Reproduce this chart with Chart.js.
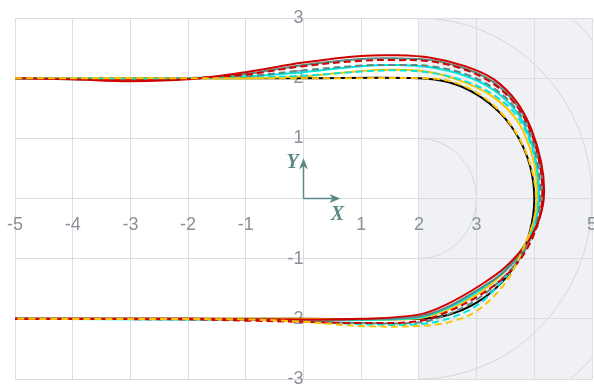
<!DOCTYPE html>
<html>
<head>
<meta charset="utf-8">
<script src="https://cdn.jsdelivr.net/npm/chart.js@4/dist/chart.umd.min.js"></script>
<style>
html,body{margin:0;padding:0;background:#fff;}
#wrap{width:594px;height:387px;position:relative;}
</style>
</head>
<body>
<div id="wrap"><canvas id="c" width="594" height="387"></canvas></div>
<script>
// ---- data ----
const xTickValues = [-5,-4,-3,-2,-1,0,1,2,3,4,5];
const yTickValues = [-3,-2,-1,0,1,2,3];
const ringRadii = [1, 3, 4];          // reference rings around the turn centre (2,0)
const ringCentre = [2, 0];
const shadedFromX = 2;

const referencePath = [[-5,2],[-3,2],[0,2],[2,2],[2.518,1.932],[3.0,1.732],[3.414,1.414],[3.732,1.0],[3.932,0.518],[4,0],[3.932,-0.518],[3.732,-1.0],[3.414,-1.414],[3.0,-1.732],[2.518,-1.932],[2,-2],[0,-2],[-5,-2]];
const redSolid = [[-5,2.0],[-4,1.98],[-3,1.95],[-2,1.98],[-1,2.1],[0,2.26],[1,2.37],[1.6,2.38],[2.2,2.34],[2.8,2.2],[3.3,1.98],[3.7,1.6],[3.95,1.15],[4.12,0.6],[4.17,0.1],[4.1,-0.3],[3.9,-0.7],[3.5,-1.14],[3.05,-1.45],[2.5,-1.75],[2.0,-1.93],[1,-2.0],[0,-2.01],[-2,-2.0],[-5,-2.0]];
const redDashed = [[-5,2],[-3,1.98],[-2,2.0],[-1,2.06],[0,2.2],[1,2.29],[1.6,2.3],[2.2,2.28],[2.8,2.14],[3.3,1.9],[3.7,1.53],[3.95,1.08],[4.1,0.55],[4.14,0.05],[4.05,-0.45],[3.8,-0.95],[3.45,-1.33],[3.0,-1.64],[2.5,-1.88],[2.0,-2.04],[1,-2.07],[0,-2.05],[-1,-2.03],[-2,-2.01],[-5,-2.0]];
const graySolid = [[-5,2],[-3,1.97],[-2,1.99],[-1,2.07],[0,2.22],[1,2.32],[1.6,2.33],[2.2,2.3],[2.8,2.16],[3.3,1.93],[3.7,1.55],[3.95,1.1],[4.1,0.55],[4.14,0.05],[4.08,-0.35],[3.88,-0.75],[3.5,-1.2],[3.0,-1.53],[2.5,-1.8],[2.0,-1.96],[1,-2.01],[0,-2.02],[-2,-2.0],[-5,-2.0]];
const grayDashed = [[-5,2],[-3,1.98],[-2,2.0],[-1,2.03],[0,2.13],[1,2.21],[1.6,2.22],[2.2,2.2],[2.8,2.07],[3.3,1.83],[3.7,1.47],[3.95,1.0],[4.07,0.5],[4.1,0.0],[4.02,-0.45],[3.78,-0.95],[3.42,-1.35],[3.0,-1.68],[2.5,-1.93],[2.0,-2.06],[1,-2.07],[0,-2.04],[-1,-2.01],[-5,-2.0]];
const cyanSolid = [[-5,2],[-3,1.99],[-2,2.0],[-1,2.03],[0,2.1],[1,2.2],[1.6,2.22],[2.2,2.18],[2.8,2.04],[3.3,1.8],[3.7,1.43],[3.93,0.98],[4.05,0.5],[4.08,0.0],[4.03,-0.35],[3.85,-0.75],[3.48,-1.2],[3.0,-1.56],[2.5,-1.82],[2.0,-1.98],[1,-2.02],[0,-2.02],[-5,-2.0]];
const cyanDashed = [[-5,2],[-3,1.99],[-2,2.0],[-1,2.01],[0,2.04],[1,2.11],[1.6,2.13],[2.2,2.09],[2.8,1.95],[3.3,1.72],[3.7,1.37],[3.93,0.93],[4.05,0.45],[4.07,-0.05],[3.98,-0.5],[3.75,-0.98],[3.4,-1.42],[3.0,-1.78],[2.5,-2.0],[2.0,-2.09],[1,-2.09],[0,-2.04],[-1,-2.01],[-5,-2.0]];
const yellowSolid = [[-5,2],[-2,2.0],[-1,2.0],[0,2.03],[1,2.12],[1.6,2.14],[2.2,2.1],[2.8,1.93],[3.3,1.68],[3.7,1.3],[3.92,0.85],[4.03,0.4],[4.05,-0.05],[3.97,-0.45],[3.78,-0.85],[3.45,-1.25],[3.0,-1.6],[2.5,-1.85],[2.0,-1.99],[1,-2.01],[0,-2.0],[-5,-2.0]];
const yellowDashed = [[-5,2],[1,2.0],[2,2.0],[2.5,1.96],[3.0,1.76],[3.42,1.43],[3.74,1.0],[3.95,0.5],[4.03,0.0],[3.98,-0.4],[3.8,-0.85],[3.5,-1.4],[3.0,-1.87],[2.5,-2.06],[2.0,-2.12],[1,-2.12],[0,-2.05],[-1,-2.01],[-5,-2.0]];

// ---- styles ----
const RED = '#d10000', GRAY = '#5b8a84', CYAN = '#00e6e0', YELLOW = '#ffc400', BLACK = '#000000';
const DASH = [7,4];

function toPts(arr){ return arr.map(p => ({x:p[0], y:p[1]})); }
function ds(arr, color, dashed){
  return {data: toPts(arr), borderColor: color, borderWidth: 2, borderDash: dashed ? DASH : [],
          pointRadius: 0, showLine: true, fill: false, tension: 0.35};
}

const bgPlugin = {
  id: 'bg',
  beforeDraw(chart){
    const {ctx, chartArea: a, scales:{x, y}} = chart;
    ctx.save();
    const x0 = x.getPixelForValue(shadedFromX);
    ctx.fillStyle = '#f0f1f4';
    ctx.fillRect(x0, a.top, a.right - x0, a.bottom - a.top);
    ctx.beginPath();
    ctx.rect(x0, a.top, a.right - x0, a.bottom - a.top);
    ctx.clip();
    const cx = x.getPixelForValue(ringCentre[0]), cy = y.getPixelForValue(ringCentre[1]);
    ctx.strokeStyle = '#d6d7da';
    ctx.lineWidth = 1;
    ringRadii.forEach(r => {
      const rx = x.getPixelForValue(ringCentre[0] + r) - cx;
      const ry = cy - y.getPixelForValue(ringCentre[1] + r);
      ctx.beginPath();
      ctx.ellipse(cx, cy, rx, ry, 0, -Math.PI/2, Math.PI/2);
      ctx.stroke();
    });
    ctx.restore();
  },
  afterDraw(chart){
    const {ctx, scales:{x, y}} = chart;
    const ox = x.getPixelForValue(0), oy = y.getPixelForValue(0);
    const yTip = y.getPixelForValue(0.67), xTip = x.getPixelForValue(0.64);
    ctx.save();
    ctx.strokeStyle = GRAY; ctx.fillStyle = GRAY; ctx.lineWidth = 1.5;
    ctx.beginPath(); ctx.moveTo(ox, oy); ctx.lineTo(ox, yTip + 6); ctx.stroke();
    ctx.beginPath(); ctx.moveTo(ox, yTip); ctx.lineTo(ox - 4.5, yTip + 11); ctx.lineTo(ox, yTip + 8); ctx.lineTo(ox + 4.5, yTip + 11); ctx.closePath(); ctx.fill();
    ctx.beginPath(); ctx.moveTo(ox, oy); ctx.lineTo(xTip - 6, oy); ctx.stroke();
    ctx.beginPath(); ctx.moveTo(xTip, oy); ctx.lineTo(xTip - 11, oy - 4.5); ctx.lineTo(xTip - 8, oy); ctx.lineTo(xTip - 11, oy + 4.5); ctx.closePath(); ctx.fill();
    ctx.font = 'italic bold 20px "Liberation Serif", "DejaVu Serif", serif';
    ctx.textAlign = 'center'; ctx.textBaseline = 'middle';
    ctx.fillText('Y', ox - 11, yTip + 5);
    ctx.fillText('X', xTip - 3, oy + 16);
    ctx.restore();
  }
};

const tickFont = {family: '"Liberation Sans", Arial, sans-serif', size: 18};
const zeroPad = s => { s.paddingLeft = 0; s.paddingRight = 0; s.paddingTop = 0; s.paddingBottom = 0; };

new Chart(document.getElementById('c'), {
  type: 'scatter',
  data: {
    datasets: [
      ds(yellowDashed, YELLOW, true),
      ds(redSolid, RED, false),
      ds(redDashed, RED, true),
      ds(graySolid, GRAY, false),
      ds(grayDashed, GRAY, true),
      ds(cyanSolid, CYAN, false),
      ds(cyanDashed, CYAN, true),
      ds(yellowSolid, YELLOW, false),
      ds(referencePath, BLACK, false)
    ]
  },
  options: {
    responsive: false,
    animation: false,
    devicePixelRatio: 1,
    layout: {padding: {left: 15, right: 2, top: 18, bottom: 8}},
    plugins: {legend: {display: false}, tooltip: {enabled: false}},
    scales: {
      x: {
        type: 'linear', min: -5, max: 5, position: {y: 0},
        afterBuildTicks: s => { s.ticks = xTickValues.map(v => ({value: v})); },
        afterFit: zeroPad,
        grid: {color: '#dcdde0', lineWidth: 1, drawTicks: false},
        border: {display: false},
        ticks: {autoSkip: false, maxRotation: 0, padding: 16, color: '#8c9098', font: tickFont,
                callback: v => v === 0 ? '' : String(v)}
      },
      y: {
        type: 'linear', min: -3, max: 3, position: {x: 0},
        afterBuildTicks: s => { s.ticks = yTickValues.map(v => ({value: v})); },
        afterFit: zeroPad,
        grid: {color: '#dcdde0', lineWidth: 1, drawTicks: false},
        border: {display: false},
        ticks: {autoSkip: false, padding: 17, color: '#8c9098', font: tickFont,
                callback: v => v === 0 ? '' : String(v)}
      }
    }
  },
  plugins: [bgPlugin]
});
</script>
</body>
</html>
